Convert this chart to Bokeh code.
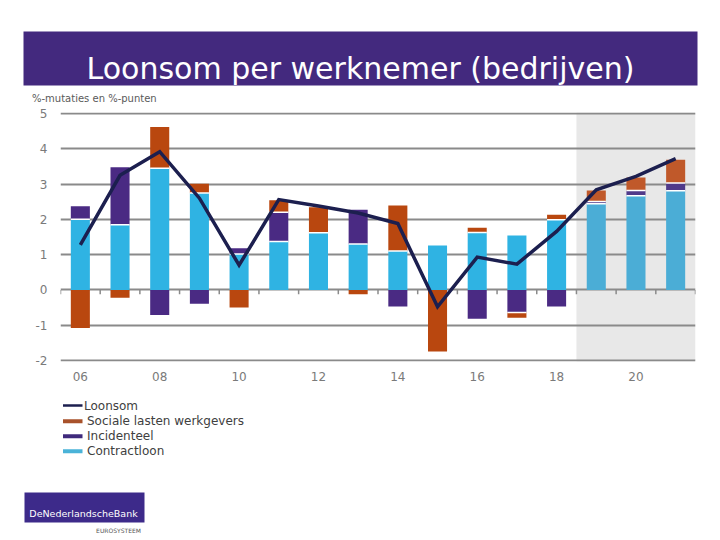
from bokeh.plotting import figure
from bokeh.layouts import column, row
from bokeh.models import ColumnDataSource, FixedTicker, BoxAnnotation, Range1d
from bokeh.core.properties import value
from bokeh.embed import file_html
from bokeh.resources import INLINE

# ---------------- data ----------------
years = list(range(2006, 2022))
contractloon = [2.00, 1.85, 3.45, 2.75, 1.02, 1.37, 1.62, 1.30, 1.10, 1.26, 1.63, 1.54, 1.99, 2.44, 2.67, 2.81]
incidenteel = [0.37, 1.63, -0.71, -0.39, 0.16, 0.83, 0.00, 0.97, -0.47, 0.00, -0.82, -0.64, -0.47, 0.07, 0.15, 0.22]
sociale_lasten = [-1.08, -0.22, 1.17, 0.26, -0.50, 0.34, 0.72, -0.12, 1.29, -1.75, 0.13, -0.15, 0.14, 0.31, 0.37, 0.66]
loonsom = [1.28, 3.25, 3.92, 2.60, 0.70, 2.56, 2.38, 2.18, 1.88, -0.48, 0.93, 0.73, 1.66, 2.84, 3.22, 3.72]
first_forecast_year = 2019
x_tick_values = [2006, 2008, 2010, 2012, 2014, 2016, 2018, 2020]
x_tick_labels = ["06", "08", "10", "12", "14", "16", "18", "20"]
y_ticks = [-2, -1, 0, 1, 2, 3, 4, 5]
y_tick_labels = ["-2", "-1", "0", "1", "2", "3", "4", "5"]
title_text = "Loonsom per werknemer (bedrijven)"
subtitle_text = "%-mutaties en %-punten"
legend_labels = ["Loonsom", "Sociale lasten werkgevers", "Incidenteel", "Contractloon"]

# ---------------- style ----------------
FONT = "DejaVu Sans"
C_BANNER = "#43297e"
C_LINE = "#1c1f4f"
C_CONTRACT = "#2fb3e3"
C_CONTRACT_FC = "#4badd6"
C_INCID = "#4a2a83"
C_INCID_FC = "#503a8a"
C_SOC = "#b9470f"
C_SOC_FC = "#c0592a"
C_GRID = "#8a8a8a"
C_TEXT = "#7a7a7a"

W = 704
TOP_H, MAIN_H, BOT_H = 104, 283, 149
FRAME_L, FRAME_R, FRAME_T, FRAME_B = 60, 695, 112, 361   # page pixels
BAR_W = 0.48


def blank_fig(h):
    f = figure(width=W, height=h, x_range=Range1d(0, W), y_range=Range1d(0, h),
               output_backend="svg", toolbar_location=None,
               x_axis_location=None, y_axis_location=None,
               min_border=0, min_border_left=0, min_border_right=0,
               min_border_top=0, min_border_bottom=0)
    f.grid.visible = False
    f.outline_line_color = None
    return f


# ---------------- stacking ----------------
fc = [y >= first_forecast_year for y in years]
c_bottom, c_top, i_bottom, i_top, s_bottom, s_top = [], [], [], [], [], []
sep_x, sep_y = [], []
for y, c, i, s in zip(years, contractloon, incidenteel, sociale_lasten):
    c_bottom.append(0.0); c_top.append(c)
    if i >= 0:
        i_bottom.append(c); i_top.append(c + i)
    else:
        i_bottom.append(i); i_top.append(0.0)
    if s >= 0:
        b = c + max(i, 0)
        s_bottom.append(b); s_top.append(b + s)
    else:
        t = min(i, 0)
        s_bottom.append(t + s); s_top.append(t)
    if i > 0 or s > 0:
        sep_x.append(y); sep_y.append(c)
    if i > 0 and s > 0:
        sep_x.append(y); sep_y.append(c + i)
    if i < 0 and s < 0:
        sep_x.append(y); sep_y.append(i)

src = ColumnDataSource(dict(
    x=years, c_bottom=c_bottom, c_top=c_top, i_bottom=i_bottom, i_top=i_top,
    s_bottom=s_bottom, s_top=s_top,
    c_col=[C_CONTRACT_FC if f else C_CONTRACT for f in fc],
    i_col=[C_INCID_FC if f else C_INCID for f in fc],
    s_col=[C_SOC_FC if f else C_SOC for f in fc],
))

# ---------------- top: banner + subtitle ----------------
top = blank_fig(TOP_H)
top.quad(left=[23], right=[697], bottom=[TOP_H - 85], top=[TOP_H - 31], fill_color=C_BANNER, line_color=None)
top.text(x=[360], y=[TOP_H - 67.5], text=[title_text], text_color="white", text_font=value(FONT),
         text_font_size="30px", text_align="center", text_baseline="alphabetic")
top.text(x=[31.5], y=[TOP_H - 98.3], text=[subtitle_text], text_color="#5a5a5a", text_font=value(FONT),
         text_font_size="10px", text_align="left", text_baseline="alphabetic")

# ---------------- main chart ----------------
p = figure(width=W, height=MAIN_H, output_backend="svg", toolbar_location=None,
           x_range=Range1d(years[0] - 0.5, years[-1] + 0.5), y_range=Range1d(-2.03, 5.03),
           min_border_left=FRAME_L, min_border_right=W - FRAME_R,
           min_border_top=FRAME_T - TOP_H, min_border_bottom=TOP_H + MAIN_H - FRAME_B)
p.outline_line_color = None
p.background_fill_color = "white"
p.border_fill_color = "white"

shade = BoxAnnotation(left=first_forecast_year - 0.5, fill_color="#e8e8e8", fill_alpha=1.0,
                      line_color=None, level="image")
p.add_layout(shade)

p.xgrid.visible = False
p.ygrid.ticker = FixedTicker(ticks=y_ticks)
p.ygrid.grid_line_color = C_GRID
p.ygrid.grid_line_width = 2

for ax in (p.xaxis[0], p.yaxis[0]):
    ax.axis_line_color = None
    ax.major_tick_line_color = None
    ax.minor_tick_line_color = None
    ax.major_label_text_color = C_TEXT
    ax.major_label_text_font = FONT
    ax.major_label_text_font_size = "12px"
p.yaxis.ticker = FixedTicker(ticks=y_ticks)
p.yaxis.major_label_overrides = {v: l for v, l in zip(y_ticks, y_tick_labels)}
p.yaxis.major_label_standoff = 7
p.xaxis.ticker = FixedTicker(ticks=x_tick_values)
p.xaxis.major_label_overrides = {v: l for v, l in zip(x_tick_values, x_tick_labels)}
p.xaxis.major_label_standoff = 4

# small ticks on the zero line between bars
bx = [y - 0.5 for y in years] + [years[-1] + 0.5]
p.segment(x0=bx, x1=bx, y0=[0] * len(bx), y1=[-0.12] * len(bx), line_color=C_GRID, line_width=1.5)

p.vbar(x="x", width=BAR_W, bottom="c_bottom", top="c_top", fill_color="c_col", line_color=None, source=src)
p.vbar(x="x", width=BAR_W, bottom="i_bottom", top="i_top", fill_color="i_col", line_color=None, source=src)
p.vbar(x="x", width=BAR_W, bottom="s_bottom", top="s_top", fill_color="s_col", line_color=None, source=src)
p.segment(x0=[x - BAR_W / 2 for x in sep_x], x1=[x + BAR_W / 2 for x in sep_x],
          y0=sep_y, y1=sep_y, line_color="white", line_width=1.5)

p.line(x=years, y=loonsom, line_color=C_LINE, line_width=3.5, line_join="miter")

# ---------------- bottom: legend + logo ----------------
bot = blank_fig(BOT_H)
BOT_TOP = TOP_H + MAIN_H   # page y of bottom figure's top edge


def by(py):
    return BOT_TOP + BOT_H - py


leg_py = [405, 420.7, 435.7, 450.7]
leg_cols = [C_LINE, "#a8522b", "#3f2a7c", "#4ab3d8"]
leg_w = [2.5, 4, 4, 4]
leg_tx = [83.5, 86.5, 86.5, 86.5]
for py, col, lw, tx, lab in zip(leg_py, leg_cols, leg_w, leg_tx, legend_labels):
    bot.segment(x0=[62.5], x1=[82], y0=[by(py)], y1=[by(py)], line_color=col, line_width=lw)
    bot.text(x=[tx], y=[by(py)], text=[lab], text_color="#404040", text_font=value(FONT),
             text_font_size="12px", text_align="left", text_baseline="middle")

bot.quad(left=[24], right=[144], bottom=[by(522)], top=[by(492)], fill_color="#3d2a8a", line_color=None)
bot.text(x=[83], y=[by(512.5)], text=["DeNederlandscheBank"], text_color="white", text_font=value(FONT),
         text_font_size="9.5px", text_align="center", text_baseline="middle")
bot.text(x=[118], y=[by(530)], text=["EUROSYSTEEM"], text_color="#555555", text_font=value(FONT),
         text_font_size="6px", text_align="center", text_baseline="middle")

layout = column(row(top), p, row(bot), spacing=0)
open("out.html", "w").write(file_html(layout, INLINE))
